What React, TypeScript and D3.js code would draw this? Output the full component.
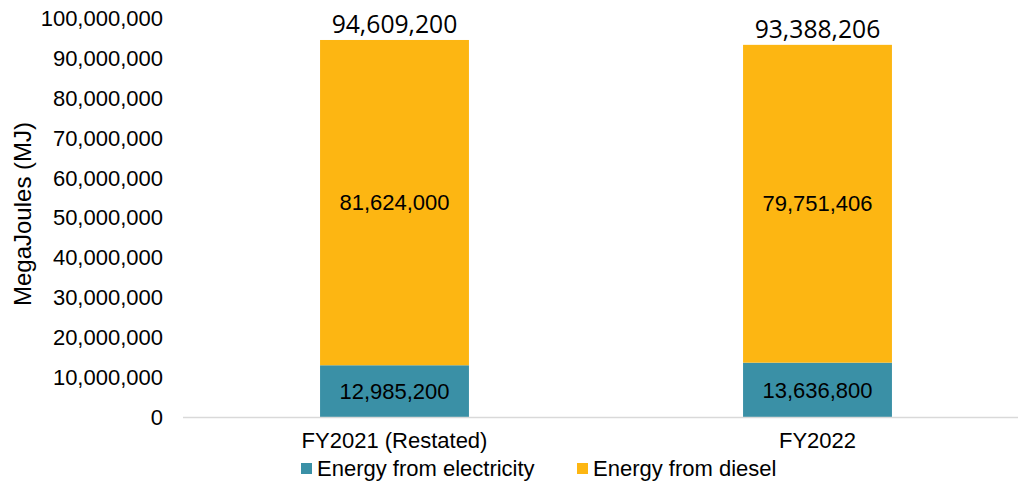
import * as d3 from "d3";
import React from "react";

const categories = ["FY2021 (Restated)", "FY2022"];
const electricity = [12985200, 13636800];
const diesel = [81624000, 79751406];
const totals = [94609200, 93388206];
const yTicks = d3.range(0, 100000001, 10000000);

const seriesNames = ["Energy from electricity", "Energy from diesel"];
const colors = ["#3A90A6", "#FDB612"];

export default function App() {
  const width = 1018;
  const height = 484;
  const marginLeft = 183;
  const plotRight = 1029;
  const plotTop = 18.5;
  const plotBottom = 417;

  const x = d3
    .scaleBand<string>()
    .domain(categories)
    .range([marginLeft, plotRight])
    .paddingInner(0.648)
    .paddingOuter(0.324);
  const y = d3.scaleLinear([0, 100000000], [plotBottom, plotTop]);
  const fmt = d3.format(",");

  const rows = categories.map((c, i) => ({
    cat: c,
    electricity: electricity[i],
    diesel: diesel[i],
  }));
  const stacked = d3.stack<(typeof rows)[number]>().keys(["electricity", "diesel"])(rows);

  const font = "'Liberation Sans', Arial, sans-serif";

  return (
    <svg
      width={width}
      height={height}
      style={{ position: "absolute", left: 0, top: 0, background: "#fff" }}
      fontFamily={font}
    >
      {/* y ticks */}
      <g fontSize="22px" textAnchor="end" fill="#000">
        {yTicks.map((t) => (
          <text key={t} x={163} y={y(t)} dy="0.35em">
            {fmt(t)}
          </text>
        ))}
      </g>
      <text
        transform={`translate(31,214) rotate(-90)`}
        textAnchor="middle"
        fontSize="24px"
      >
        MegaJoules (MJ)
      </text>

      {/* bars */}
      {stacked.map((s, si) => (
        <g key={s.key} fill={colors[si]}>
          {s.map((d, i) => (
            <g key={i}>
              <rect
                x={x(categories[i])}
                y={y(d[1])}
                width={x.bandwidth()}
                height={y(d[0]) - y(d[1])}
              />
              <text
                x={(x(categories[i]) ?? 0) + x.bandwidth() / 2}
                y={y((d[0] + d[1]) / 2)}
                dy="0.35em"
                textAnchor="middle"
                fontSize="22px"
                fill="#000"
              >
                {fmt(d[1] - d[0])}
              </text>
            </g>
          ))}
        </g>
      ))}

      {/* totals */}
      {totals.map((t, i) => (
        <text
          key={i}
          x={(x(categories[i]) ?? 0) + x.bandwidth() / 2}
          y={y(t) - 7}
          textAnchor="middle"
          fontSize="24.7px"
          fontFamily="'Open Sans', 'Noto Sans', sans-serif"
        >
          {fmt(t)}
        </text>
      ))}

      {/* x axis */}
      <line x1={marginLeft} x2={plotRight} y1={plotBottom + 0.5} y2={plotBottom + 0.5} stroke="#d9d9d9" strokeWidth={1.5} />
      {categories.map((c) => (
        <text
          key={c}
          x={(x(c) ?? 0) + x.bandwidth() / 2}
          y={440}
          dy="0.35em"
          textAnchor="middle"
          fontSize="22px"
        >
          {c}
        </text>
      ))}

      {/* legend */}
      {seriesNames.map((n, i) => {
        const lx = [301, 577][i];
        return (
          <g key={n} transform={`translate(${lx},463)`}>
            <rect width={11} height={11} fill={colors[i]} />
            <text x={16} y={5.5} dy="0.35em" fontSize="22px">
              {n}
            </text>
          </g>
        );
      })}
    </svg>
  );
}
